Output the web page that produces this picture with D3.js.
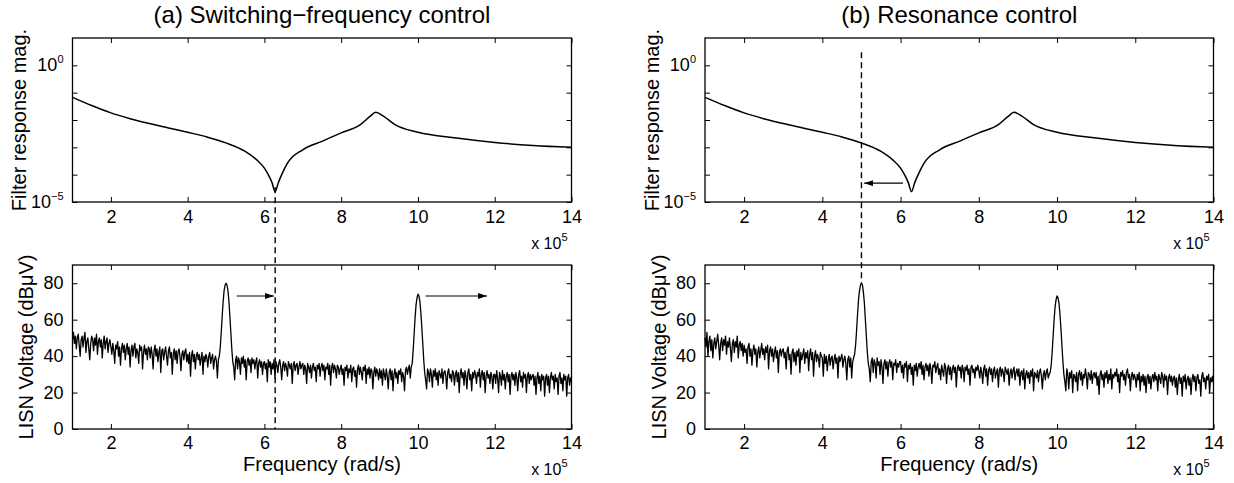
<!DOCTYPE html>
<html><head><meta charset="utf-8">
<script src="https://cdn.jsdelivr.net/npm/d3@7"></script>
<style>
body{margin:0;background:#fff}
svg{display:block}
text{font-family:"Liberation Sans",Arial,Helvetica,sans-serif;fill:#000}
</style>
</head><body>
<svg id="c" width="1234" height="483"></svg>
<script>
// ---------------- data ----------------
const titles = ["(a) Switching\u2212frequency control", "(b) Resonance control"];
const freqTicks = [2, 4, 6, 8, 10, 12, 14];          // x 10^5 rad/s
const magTicksLabelled = [1e-5, 1e0];
const magTicksMinor = [1e-5, 1e-4, 1e-3, 1e-2, 1e-1, 1e0];
const lisnTicks = [0, 20, 40, 60, 80];

// filter response magnitude (freq x10^5 rad/s)
const filterFreq = [1.0, 1.5, 2.0, 2.5, 3.0, 3.5, 4.0, 4.5, 5.0, 5.5, 5.8, 6.0, 6.1, 6.2, 6.28, 6.36, 6.45, 6.6, 7.0, 7.5, 8.0, 8.5, 8.75, 8.9, 9.1, 9.4, 10.0, 11.0, 12.0, 13.0, 14.0];
const filterMag  = [0.0676, 0.0339, 0.0182, 0.0112, 0.00741, 0.00513, 0.00355, 0.00240, 0.00145, 0.000708, 0.000347, 0.000174, 0.0001, 0.00005, 0.000024, 0.00005, 0.0001, 0.000263, 0.000813, 0.00166, 0.00339, 0.00676, 0.0135, 0.0191, 0.0138, 0.00676, 0.00355, 0.00219, 0.00151, 0.00117, 0.00100];

// LISN spectrum (dBuV) sampled every 0.025 x10^5 rad/s from 1 to 14
const lisnFreq = d3.range(521).map(i => +(1 + i * 0.025).toFixed(3));
const lisnA = [
 49,53,47,51,44,50,52,46,40,49,51,45,50,53,42,48,50,44,38,47,51,49,43,50,46,52,41,48,50,45,49,39,47,51,44,48,50,42,47,49,
 45,41,47,43,36,46,44,48,40,45,35,44,47,42,46,38,44,47,41,45,34,43,46,40,45,47,39,44,42,36,46,43,45,33,42,46,41,44,38,45,
 44,39,45,41,33,43,46,40,44,37,42,45,31,43,44,38,42,45,40,35,43,45,39,42,30,41,44,38,43,36,42,44,40,32,41,43,38,42,44,37,
 41,36,42,29,40,43,37,41,33,40,42,38,41,35,39,42,30,40,37,41,39,34,40,42,36,39,41,33,38,40,37,28,38,40,45,53,62,70,76,79,
 80,79,76,70,62,53,44,37,34,27,38,40,33,39,37,30,39,36,40,34,38,27,37,39,35,38,31,39,36,38,33,37,39,28,36,38,34,37,30,36,
 37,33,36,26,38,34,37,30,36,33,38,28,37,35,31,36,38,34,27,35,37,32,36,34,29,37,35,33,36,25,35,37,32,35,36,30,34,37,33,35,
 36,30,35,33,25,36,34,31,35,28,34,36,32,34,26,35,33,36,29,34,36,32,35,27,34,33,36,30,35,24,34,36,31,35,33,28,35,34,30,33,
 35,30,33,24,34,32,35,28,33,31,35,26,33,34,29,32,23,33,35,30,34,31,27,34,32,35,25,33,30,34,28,33,32,22,31,34,29,33,31,27,
 33,28,32,24,33,30,27,33,29,22,31,33,27,32,21,30,33,28,31,25,32,30,33,26,31,29,21,32,34,30,33,35,28,34,36,43,52,61,68,72,
 74,73,70,64,56,47,38,31,27,22,33,31,26,33,30,23,32,29,33,27,31,24,32,30,28,33,25,31,32,29,22,31,33,28,30,26,32,31,24,30,
 32,26,31,20,30,33,28,31,24,32,29,22,31,33,27,30,21,31,28,32,30,25,31,29,33,23,30,32,27,31,20,29,32,28,30,25,31,29,22,30,
 30,25,32,28,20,31,29,24,32,27,30,22,29,31,26,30,19,29,31,27,30,24,31,28,21,30,32,26,29,23,31,28,30,20,29,31,25,30,27,29,
 30,24,29,19,28,31,25,29,21,30,27,29,18,28,30,24,29,20,28,31,27,29,22,30,26,28,19,29,31,25,28,21,30,27,29,18,28,30,24,28,
 26];
const lisnB = [
 50,45,53,40,48,51,43,49,39,47,50,44,48,52,46,38,47,50,43,49,46,51,41,48,45,50,44,37,47,49,42,48,45,51,39,46,48,43,47,40,
 46,42,44,36,45,47,40,44,35,43,46,41,44,34,42,45,39,43,47,41,44,38,45,42,46,33,43,45,40,44,37,42,45,39,43,31,42,44,40,43,
 44,39,42,33,43,45,38,41,30,42,44,37,42,35,43,40,44,31,42,38,41,44,36,42,39,43,32,41,44,38,42,29,40,43,37,41,39,34,42,40,
 39,29,41,36,40,32,38,41,35,39,40,33,38,41,36,39,28,40,37,39,41,34,38,40,36,27,38,40,34,39,28,37,39,41,46,54,63,71,76,79,
 80,79,75,69,60,51,42,36,33,26,37,39,31,38,36,28,39,35,37,30,38,34,25,36,38,33,37,29,36,38,34,37,27,36,35,38,31,36,34,37,
 37,31,35,28,36,34,37,26,35,33,36,30,34,24,35,32,36,29,34,36,33,37,30,35,27,34,36,32,35,29,36,33,25,35,34,37,31,34,36,30,
 33,27,35,32,29,36,34,25,33,35,30,34,27,33,35,31,34,23,33,35,32,34,28,35,33,26,34,32,35,30,33,24,34,35,31,33,28,34,32,35,
 32,28,34,31,25,33,35,29,33,24,32,34,30,33,26,32,34,28,31,33,23,32,34,29,33,31,26,34,32,30,33,24,31,33,28,32,34,27,31,33,
 29,33,24,31,32,27,33,22,30,32,28,31,25,32,29,33,21,31,30,28,32,26,31,33,29,22,30,32,27,31,33,28,30,31,35,42,51,60,67,71,
 73,72,69,63,55,46,37,30,26,21,33,30,22,31,28,32,20,30,29,26,31,21,30,32,27,31,24,30,28,33,29,22,31,30,27,32,25,30,31,28,
 31,24,29,19,30,32,27,30,23,31,28,32,25,30,27,33,22,30,28,31,29,33,26,30,20,31,29,32,27,30,24,31,33,28,30,21,29,31,27,30,
 28,23,30,27,31,21,29,26,30,24,29,20,28,30,25,29,22,28,30,26,31,27,29,21,30,28,25,31,29,23,30,27,29,19,28,30,26,29,24,28,
 29,23,28,19,27,30,25,28,18,29,26,30,22,27,29,24,28,19,27,30,26,29,21,28,30,25,27,18,29,31,26,28,22,29,27,30,20,28,26,29,
 25];

// annotations (data units)
const dashA = {freq: 6.28, magFrom: 3.5e-5, lisnTo: 0};
const dashB = {freq: 5.0, magFrom: 3.0, lisnTo: 80};
const arrowsA_lisn = [{from: 5.28, to: 6.25, level: 73}, {from: 10.2, to: 11.8, level: 73}];
const arrowsB_mag = [{from: 6.06, to: 5.07, level: 4.9e-5}];

// ---------------- drawing ----------------
const svg = d3.select("#c");
svg.append("rect").attr("width", 1234).attr("height", 483).attr("fill", "#fff");
svg.append("defs").append("marker")
  .attr("id", "arr").attr("viewBox", "0 0 9 6").attr("refX", 9).attr("refY", 3)
  .attr("markerWidth", 9).attr("markerHeight", 6).attr("markerUnits", "userSpaceOnUse")
  .attr("orient", "auto")
  .append("path").attr("d", "M0,0L9,3L0,6Z").attr("fill", "#000");

const TOP = [38, 202], BOT = [265, 429];
const panels = [
  {title: titles[0], x0: 72.5, x1: 571.5, lisn: lisnA, dash: dashA, arrowsL: arrowsA_lisn, arrowsM: []},
  {title: titles[1], x0: 705, x1: 1213.5, lisn: lisnB, dash: dashB, arrowsL: [], arrowsM: arrowsB_mag}
];

function styleAxis(g, withText) {
  g.select(".domain").remove();
  g.attr("font-family", null).attr("font-size", null);
  g.selectAll(".tick line").attr("stroke", "#000").attr("stroke-width", 1);
  g.selectAll(".tick text").attr("font-size", "18px");
  if (!withText) g.selectAll(".tick text").remove();
}

function sup(sel, x, y, base, exp, anchor, fs, sfs, rise) {
  const t = sel.append("text").attr("x", x).attr("y", y).attr("text-anchor", anchor).attr("font-size", fs + "px");
  t.append("tspan").text(base);
  t.append("tspan").attr("dy", -rise).attr("font-size", sfs + "px").text(exp);
  return t;
}

panels.forEach(p => {
  const x = d3.scaleLinear().domain([1, 14]).range([p.x0, p.x1]);
  const yM = d3.scaleLog().domain([1e-5, 10]).range([TOP[1], TOP[0]]);
  const yL = d3.scaleLinear().domain([0, 90]).range([BOT[1], BOT[0]]);
  const cx = (p.x0 + p.x1) / 2;

  // title
  svg.append("text").attr("x", cx).attr("y", 23).attr("text-anchor", "middle")
    .attr("font-size", "24px").text(p.title);

  // ---- top panel ----
  const gT = svg.append("g");
  gT.append("path").datum(filterFreq.map((f, i) => [f, filterMag[i]]))
    .attr("fill", "none").attr("stroke", "#000").attr("stroke-width", 1.5)
    .attr("d", d3.line().x(d => x(d[0])).y(d => yM(d[1])).curve(d3.curveMonotoneX));

  gT.append("g").attr("transform", `translate(0,${TOP[1]})`)
    .call(d3.axisBottom(x).tickValues(freqTicks).tickSize(-5).tickPadding(8).tickFormat(d3.format("d")))
    .call(g => styleAxis(g, true));
  gT.append("g").attr("transform", `translate(0,${TOP[0]})`)
    .call(d3.axisTop(x).tickValues(freqTicks).tickSize(-5))
    .call(g => styleAxis(g, false));
  gT.append("g").attr("transform", `translate(${p.x0},0)`)
    .call(d3.axisLeft(yM).tickValues(magTicksMinor).tickSize(-5))
    .call(g => styleAxis(g, false));
  gT.append("g").attr("transform", `translate(${p.x1},0)`)
    .call(d3.axisRight(yM).tickValues(magTicksMinor).tickSize(-5))
    .call(g => styleAxis(g, false));
  gT.append("rect").attr("x", p.x0).attr("y", TOP[0]).attr("width", p.x1 - p.x0).attr("height", TOP[1] - TOP[0])
    .attr("fill", "none").attr("stroke", "#000").attr("stroke-width", 1.3);
  magTicksLabelled.forEach(v => {
    const e = Math.round(Math.log10(v));
    sup(gT, p.x0 - 9, yM(v) + 6, "10", e === 0 ? "0" : "\u22125", "end", 18, 11, 8);
  });
  sup(gT, p.x1 - 4, 249, "x 10", "5", "end", 16, 11, 8);
  gT.append("text").attr("transform", `translate(${p.x0 - 46.5},${(TOP[0] + TOP[1]) / 2}) rotate(-90)`)
    .attr("text-anchor", "middle").attr("font-size", "20px").text("Filter response mag.");

  // ---- bottom panel ----
  const gB = svg.append("g");
  gB.append("path").datum(lisnFreq.map((f, i) => [f, p.lisn[i]]))
    .attr("fill", "none").attr("stroke", "#000").attr("stroke-width", 1.3).attr("stroke-linejoin", "round")
    .attr("d", d3.line().x(d => x(d[0])).y(d => yL(d[1])));

  gB.append("g").attr("transform", `translate(0,${BOT[1]})`)
    .call(d3.axisBottom(x).tickValues(freqTicks).tickSize(-5).tickPadding(7).tickFormat(d3.format("d")))
    .call(g => styleAxis(g, true));
  gB.append("g").attr("transform", `translate(0,${BOT[0]})`)
    .call(d3.axisTop(x).tickValues(freqTicks).tickSize(-5))
    .call(g => styleAxis(g, false));
  gB.append("g").attr("transform", `translate(${p.x0},0)`)
    .call(d3.axisLeft(yL).tickValues(lisnTicks).tickSize(-5).tickPadding(9))
    .call(g => styleAxis(g, true));
  gB.append("g").attr("transform", `translate(${p.x1},0)`)
    .call(d3.axisRight(yL).tickValues(lisnTicks).tickSize(-5))
    .call(g => styleAxis(g, false));
  gB.append("rect").attr("x", p.x0).attr("y", BOT[0]).attr("width", p.x1 - p.x0).attr("height", BOT[1] - BOT[0])
    .attr("fill", "none").attr("stroke", "#000").attr("stroke-width", 1.3);
  sup(gB, p.x1 - 4, 475, "x 10", "5", "end", 16, 11, 8);
  gB.append("text").attr("x", cx).attr("y", 471).attr("text-anchor", "middle")
    .attr("font-size", "20px").text("Frequency (rad/s)");
  gB.append("text").attr("transform", `translate(${p.x0 - 39.5},${(BOT[0] + BOT[1]) / 2}) rotate(-90)`)
    .attr("text-anchor", "middle").attr("font-size", "20px").text("LISN Voltage (dB\u03BCV)");

  // ---- annotations ----
  svg.append("line")
    .attr("x1", x(p.dash.freq)).attr("x2", x(p.dash.freq))
    .attr("y1", yM(p.dash.magFrom)).attr("y2", yL(p.dash.lisnTo))
    .attr("stroke", "#000").attr("stroke-width", 1.4).attr("stroke-dasharray", "6,4");
  p.arrowsL.forEach(a => {
    svg.append("line").attr("x1", x(a.from)).attr("x2", x(a.to))
      .attr("y1", yL(a.level)).attr("y2", yL(a.level))
      .attr("stroke", "#000").attr("stroke-width", 1.2).attr("marker-end", "url(#arr)");
  });
  p.arrowsM.forEach(a => {
    svg.append("line").attr("x1", x(a.from)).attr("x2", x(a.to))
      .attr("y1", yM(a.level)).attr("y2", yM(a.level))
      .attr("stroke", "#000").attr("stroke-width", 1.2).attr("marker-end", "url(#arr)");
  });
});
</script>
</body></html>
